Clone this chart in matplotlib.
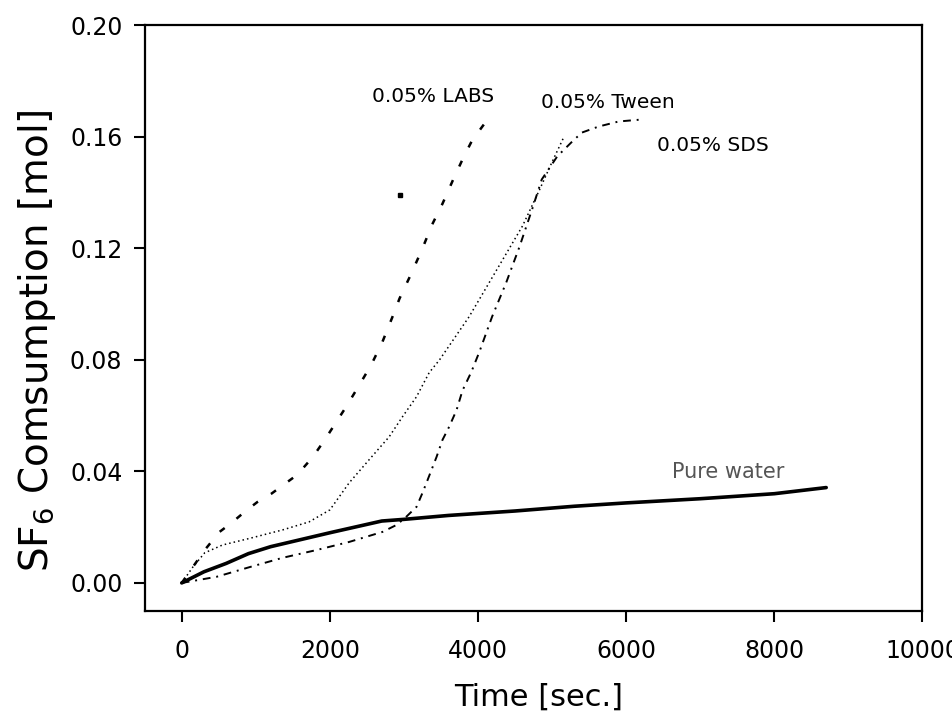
import matplotlib
matplotlib.use("Agg")
import matplotlib.pyplot as plt

plt.rcParams['font.family'] = ['DejaVu Sans']
plt.rcParams['mathtext.default'] = 'regular'

# data (time in s, consumption in mol)
water_t = [0, 300, 600, 900, 1200, 1600, 2000, 2300, 2700, 3000, 3600, 4500, 5300, 6000, 7000, 8000, 8700]
water_y = [0, 0.004, 0.007, 0.0105, 0.013, 0.0155, 0.018, 0.0198, 0.0222, 0.0228, 0.0242, 0.0258, 0.0275, 0.0287, 0.0302, 0.032, 0.0342]

labs_t = [0, 310, 510, 670, 850, 1020, 1210, 1560, 1770, 1930, 2220, 2400, 2560, 2710, 2840, 2940,
          3100, 3250, 3380, 3520, 3670, 3810, 3920, 4150]
labs_y = [0, 0.0118, 0.0183, 0.0215, 0.0255, 0.029, 0.032, 0.0388, 0.0452, 0.0513, 0.0632, 0.0711, 0.0783,
          0.0865, 0.0951, 0.102, 0.111, 0.120, 0.1285, 0.136, 0.145, 0.153, 0.1587, 0.167]

tween_t = [0, 150, 310, 550, 920, 1360, 1720, 2000, 2260, 2530, 2800, 2980, 3170, 3340, 3480, 3880,
           4290, 4600, 4830, 5000, 5160]
tween_y = [0, 0.0057, 0.0108, 0.0136, 0.016, 0.019, 0.0219, 0.0262, 0.0359, 0.0442, 0.0524, 0.0596,
           0.0668, 0.0754, 0.080, 0.0955, 0.114, 0.128, 0.141, 0.151, 0.160]

sds_t = [0, 470, 920, 1360, 1820, 2260, 2710, 2900, 3030, 3170, 3250, 3320, 3440, 3520, 3610, 3710,
         3790, 3910, 4020, 4190, 4380, 4560, 4730, 4860, 5070, 5260, 5400, 5630, 5900, 6210]
sds_y = [0, 0.0022, 0.0057, 0.009, 0.0118, 0.0147, 0.0183, 0.0208, 0.0237, 0.0273, 0.0323, 0.037,
         0.0452, 0.0513, 0.056, 0.062, 0.069, 0.0757, 0.083, 0.0955, 0.1077, 0.1206, 0.134, 0.1447,
         0.153, 0.158, 0.1615, 0.1637, 0.1655, 0.1662]

stray_t = [2940]
stray_y = [0.139]

labels = ['0.05% LABS', '0.05% Tween', '0.05% SDS', 'Pure water']
label_t = [2570, 4850, 6410, 6620]
label_y = [0.1745, 0.1723, 0.157, 0.0398]

fig = plt.figure(figsize=(9.52, 7.22), dpi=100)
ax = fig.add_axes([0.152, 0.154, 0.817, 0.811])

ax.plot(water_t, water_y, color='black', lw=2.6, solid_capstyle='round')
ax.plot(labs_t, labs_y, color='black', lw=1.8, dashes=(2.5, 6))
ax.plot(tween_t, tween_y, color='black', lw=1.1, dashes=(1, 2))
ax.plot(sds_t, sds_y, color='black', lw=1.4, dashes=(4, 3, 1, 3))
ax.plot(stray_t, stray_y, 's', color='black', ms=3.5)

for txt, tx, ty in zip(labels, label_t, label_y):
    if txt == 'Pure water':
        ax.text(tx, ty, txt, fontsize=15, color='#555555', ha='left', va='center')
    else:
        ax.text(tx, ty, txt, fontsize=14.5, color='black', ha='left', va='center')

ax.set_xlim(-500, 10000)
ax.set_ylim(-0.01, 0.20)
ax.set_xticks([0, 2000, 4000, 6000, 8000, 10000])
ax.set_yticks([0.00, 0.04, 0.08, 0.12, 0.16, 0.20])
ax.set_yticklabels(['0.00', '0.04', '0.08', '0.12', '0.16', '0.20'])
ax.tick_params(direction='out', length=8, width=1.5, labelsize=17)
ax.tick_params(axis='x', pad=12)
ax.tick_params(axis='y', pad=8)
for s in ax.spines.values():
    s.set_linewidth(1.6)

ax.set_xlabel('Time [sec.]', fontsize=22)
ax.set_ylabel('SF$_6$ Comsumption [mol]', fontsize=28)
ax.xaxis.set_label_coords(0.506, -0.147)
ax.yaxis.set_label_coords(-0.139, 0.461)
ax.xaxis.label.set_va('center')
ax.yaxis.label.set_va('center')

fig.savefig('out.png', dpi=100)
